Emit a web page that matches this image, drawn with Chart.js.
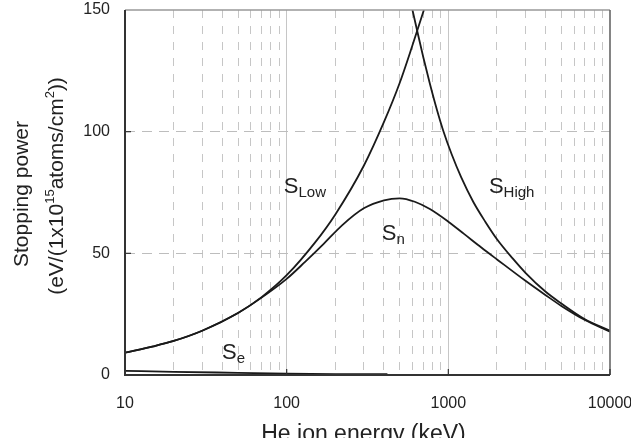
<!DOCTYPE html>
<html>
<head>
<meta charset="utf-8">
<script src="https://cdn.jsdelivr.net/npm/chart.js@4/dist/chart.umd.min.js"></script>
<style>
    html, body { margin: 0; padding: 0; background: #fff; }
    #wrap { width: 631px; height: 438px; }
</style>
</head>
<body>
<div id="wrap"><canvas id="chart" width="631" height="438"></canvas></div>
<script>
// He ion energy (keV) / stopping power values
const lowEnergy = [10, 15, 20, 30, 50, 70, 100, 150, 200, 300, 400, 500, 600, 706];
const lowStopping = [9.2, 11.8, 14.0, 18.2, 25.5, 32.0, 41.0, 54.5, 66.0, 86.0, 104, 120, 135.5, 150];

const nEnergy = [10, 15, 20, 30, 50, 70, 100, 130, 170, 220, 300, 400, 500, 620, 769, 1000, 1250, 1600, 2000, 3000, 4000, 5000, 7000, 10000];
const nStopping = [9.2, 11.8, 14.0, 18.2, 25.5, 31.8, 39.5, 46.5, 54.0, 61.5, 68.5, 71.8, 72.6, 71.2, 68.2, 63.0, 58.0, 52.4, 47.5, 38.7, 32.8, 28.4, 22.6, 17.8];

const highEnergy = [600, 650, 700, 769, 850, 929, 1050, 1200, 1425, 1700, 2000, 2500, 3000, 4000, 5000, 7000, 10000];
const highStopping = [150, 139.8, 130.6, 119.7, 109.0, 100.5, 90.6, 81.3, 71.2, 62.8, 55.8, 47.9, 42.0, 34.2, 29.4, 22.9, 18.2];

const eEnergy = [10, 20, 50, 100, 200, 420];
const eStopping = [1.7, 1.3, 0.9, 0.6, 0.4, 0.3];

// axis ticks
const xLabelValues = [10, 100, 1000, 10000];
const xTickLabels = ['10', '100', '1000', '10000'];
const yTickValues = [0, 50, 100, 150];

// curve labels (main letter + subscript), anchored in data space
const curveLabels = [
    { main: 'S', sub: 'Low', x: 96, y: 74.8 },
    { main: 'S', sub: 'High', x: 1782, y: 74.8 },
    { main: 'S', sub: 'n', x: 388, y: 55.5 },
    { main: 'S', sub: 'e', x: 39.8, y: 6.6 }
];

const toPoints = (xs, ys) => xs.map((x, i) => ({ x: x, y: ys[i] }));

const FONT = '"Liberation Sans", Arial, sans-serif';
const INK = '#222';

function lineSet(xs, ys) {
    return {
        data: toPoints(xs, ys),
        borderColor: '#1a1a1a',
        borderWidth: 1.8,
        pointRadius: 0,
        fill: false,
        cubicInterpolationMode: 'monotone'
    };
}

// minor + major grid positions of a log axis
function logGridValues(min, max) {
    const vals = [];
    for (let d = min; d < max; d *= 10) {
        for (let m = 1; m <= 9; m++) vals.push(d * m);
    }
    vals.push(max);
    return vals;
}

const decorPlugin = {
    id: 'decor',
    afterDraw(chart) {
        const ctx = chart.ctx;
        const area = chart.chartArea;
        const xs = chart.scales.x;
        const ys = chart.scales.y;
        ctx.save();

        // frame
        ctx.lineWidth = 1.6;
        ctx.strokeStyle = '#999';
        ctx.beginPath();
        ctx.moveTo(area.left, area.top);
        ctx.lineTo(area.right, area.top);
        ctx.stroke();
        ctx.strokeStyle = '#666';
        ctx.beginPath();
        ctx.moveTo(area.right, area.top);
        ctx.lineTo(area.right, area.bottom);
        ctx.stroke();
        ctx.strokeStyle = '#333';
        ctx.lineWidth = 2;
        ctx.beginPath();
        ctx.moveTo(area.left, area.top);
        ctx.lineTo(area.left, area.bottom);
        ctx.lineTo(area.right, area.bottom);
        ctx.stroke();

        // inside tick marks
        ctx.lineWidth = 1.2;
        xLabelValues.slice(1).forEach(v => {
            const px = xs.getPixelForValue(v);
            ctx.beginPath();
            ctx.moveTo(px, area.bottom);
            ctx.lineTo(px, area.bottom - 6);
            ctx.stroke();
        });
        yTickValues.slice(1, -1).forEach(v => {
            const py = ys.getPixelForValue(v);
            ctx.beginPath();
            ctx.moveTo(area.left, py);
            ctx.lineTo(area.left + 6, py);
            ctx.stroke();
        });

        // curve labels
        ctx.fillStyle = INK;
        ctx.textBaseline = 'alphabetic';
        ctx.textAlign = 'left';
        curveLabels.forEach(l => {
            const px = xs.getPixelForValue(l.x);
            const py = ys.getPixelForValue(l.y);
            ctx.font = '22px ' + FONT;
            ctx.fillText(l.main, px, py);
            const w = ctx.measureText(l.main).width;
            ctx.font = '15px ' + FONT;
            ctx.fillText(l.sub, px + w, py + 4);
        });

        // x axis title
        ctx.font = '23px ' + FONT;
        ctx.textAlign = 'center';
        ctx.fillText('He ion energy (keV)', (area.left + area.right) / 2 - 4, 441);

        // y axis title (two lines, rotated, with superscripts)
        ctx.save();
        ctx.translate(28, 194);
        ctx.rotate(-Math.PI / 2);
        ctx.font = '21px ' + FONT;
        ctx.textAlign = 'center';
        ctx.fillText('Stopping power', 0, 0);
        ctx.restore();

        const parts = [
            { t: '(eV/(1x10', sup: false },
            { t: '15', sup: true },
            { t: 'atoms/cm', sup: false },
            { t: '2', sup: true },
            { t: '))', sup: false }
        ];
        ctx.save();
        ctx.translate(63, 186);
        ctx.rotate(-Math.PI / 2);
        ctx.textAlign = 'left';
        let total = 0;
        parts.forEach(p => {
            ctx.font = (p.sup ? '13px ' : '21px ') + FONT;
            p.w = ctx.measureText(p.t).width;
            total += p.w;
        });
        let cx = -total / 2;
        parts.forEach(p => {
            ctx.font = (p.sup ? '13px ' : '21px ') + FONT;
            ctx.fillText(p.t, cx, p.sup ? -9 : 0);
            cx += p.w;
        });
        ctx.restore();

        ctx.restore();
    }
};

const ctx = document.getElementById('chart');

new Chart(ctx, {
    type: 'line',
    data: {
        datasets: [
            lineSet(lowEnergy, lowStopping),
            lineSet(highEnergy, highStopping),
            lineSet(nEnergy, nStopping),
            lineSet(eEnergy, eStopping)
        ]
    },
    options: {
        responsive: false,
        animation: false,
        events: [],
        layout: { padding: { left: 0, right: 21, top: 10, bottom: 0 } },
        plugins: {
            legend: { display: false },
            tooltip: { enabled: false },
            title: { display: false }
        },
        scales: {
            x: {
                type: 'logarithmic',
                min: 10,
                max: 10000,
                afterBuildTicks: scale => {
                    scale.ticks = logGridValues(10, 10000).map(v => ({ value: v }));
                },
                afterFit: scale => {
                    scale.height = 63;
                    scale.paddingLeft = 0;
                    scale.paddingRight = 0;
                },
                ticks: {
                    autoSkip: false,
                    maxRotation: 0,
                    minRotation: 0,
                    padding: 19,
                    color: INK,
                    font: { family: FONT, size: 16 },
                    callback: value => {
                        const i = xLabelValues.indexOf(Math.round(value));
                        return i >= 0 ? xTickLabels[i] : '';
                    }
                },
                grid: {
                    drawTicks: false,
                    lineWidth: 1,
                    color: c => {
                        const v = Math.round(c.tick.value);
                        if (v === 10 || v === 10000) return 'rgba(0,0,0,0)';
                        return '#c6c6c6';
                    }
                },
                border: {
                    display: false,
                    dash: c => (xLabelValues.includes(Math.round(c.tick.value)) ? [] : [8, 8])
                }
            },
            y: {
                type: 'linear',
                min: 0,
                max: 150,
                afterBuildTicks: scale => {
                    scale.ticks = yTickValues.map(v => ({ value: v }));
                },
                afterFit: scale => {
                    scale.width = 125;
                    scale.paddingTop = 0;
                    scale.paddingBottom = 0;
                },
                ticks: {
                    padding: 15,
                    color: INK,
                    font: { family: FONT, size: 16 }
                },
                grid: {
                    drawTicks: false,
                    lineWidth: 1,
                    color: c => (c.tick.value === 0 || c.tick.value === 150 ? 'rgba(0,0,0,0)' : '#bdbdbd')
                },
                border: {
                    display: false,
                    dash: [10, 7]
                }
            }
        }
    },
    plugins: [decorPlugin]
});
</script>
</body>
</html>
